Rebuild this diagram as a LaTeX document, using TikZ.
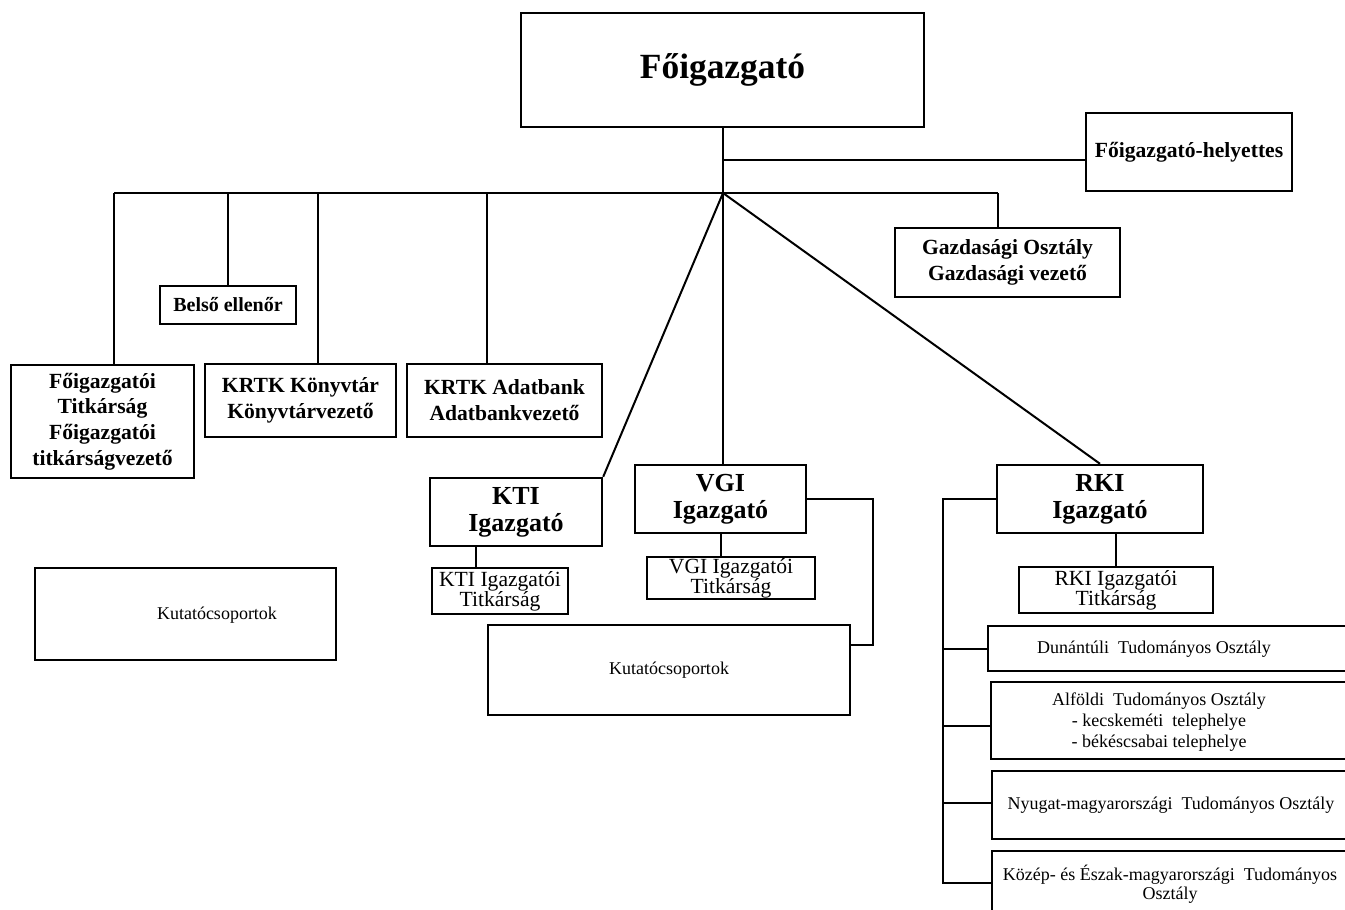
\documentclass[tikz,border=0pt]{standalone}
\usepackage{fontspec}
\setmainfont{Liberation Serif}
\usetikzlibrary{calc}
\begin{document}
\begin{tikzpicture}[x=0.5pt,y=-0.5pt,line width=1pt,
  wh/.style 2 args={minimum width=#1*0.5pt,minimum height=#2*0.5pt},
  box/.style={draw,line width=1.2pt,inner sep=0pt,align=center,font=\bfseries\fontsize{10.8}{13}\selectfont},
  bigbox/.style={box,font=\bfseries\fontsize{13}{13.5}\selectfont},
  sbox/.style={draw,line width=1.2pt,inner sep=0pt,align=center,font=\fontsize{10.8}{10}\selectfont},
  kbox/.style={draw,line width=1.2pt,inner sep=0pt,align=center,font=\fontsize{9}{10}\selectfont},
  dbox/.style={draw,line width=1.2pt,inner sep=0pt,anchor=west},
  dtext/.style={inner sep=0pt,align=center,font=\fontsize{9}{10.5}\selectfont}]
\useasboundingbox (0,0) rectangle (1345,910);
\clip (0,0) rectangle (1345,910);

% nodes
\node[box,wh={403}{114},font=\bfseries\fontsize{17.7}{20}\selectfont] (fo) at (722.5,70) {Főigazgató};
\node[box,wh={206}{78}] (hely) at (1189,152) {Főigazgató-helyettes};
\node[box,wh={225}{69}] (gazd) at (1007.5,262.5) {Gazdasági Osztály\\Gazdasági vezető};
\node[box,wh={136}{38},font=\bfseries\fontsize{10}{12}\selectfont] (belso) at (228,305) {Belső ellenőr};
\node[box,wh={183}{113},font=\bfseries\fontsize{10.8}{12.8}\selectfont] (fotitk) at (102.5,421.5) {Főigazgatói\\Titkárság\\Főigazgatói\\titkárságvezető};
\node[box,wh={191}{73}] (konyv) at (300.5,400.5) {KRTK Könyvtár\\Könyvtárvezető};
\node[box,wh={195}{73}] (adat) at (504.5,400.5) {KRTK Adatbank\\Adatbankvezető};
\node[bigbox,wh={172}{68}] (kti) at (516,512) {KTI\\Igazgató};
\node[sbox,wh={136}{46}] (ktitk) at (500,591) {KTI Igazgatói\\Titkárság};
\node[bigbox,wh={171}{68}] (vgi) at (720.5,499) {VGI\\Igazgató};
\node[sbox,wh={168}{42}] (vgitk) at (731,578) {VGI Igazgatói\\Titkárság};
\node[kbox,wh={362}{90}] (kut2) at (669,670) {Kutatócsoportok};
\node[kbox,wh={301}{92}] (kut1) at (185.5,614) {};
\node[dtext] (kut1t) at (217,615) {Kutatócsoportok};
\node[bigbox,wh={206}{68}] (rki) at (1100,499) {RKI\\Igazgató};
\node[sbox,wh={194}{46}] (rkitk) at (1116,590) {RKI Igazgatói\\Titkárság};

\node[dbox,wh={420}{45}] (dun) at (987,648.5) {};
\node[dtext] (dunt) at (1154,649) {Dunántúli\ \ Tudományos Osztály};
\node[dbox,wh={420}{77}] (alf) at (990,720.5) {};
\node[dtext] (alft) at (1159,722) {Alföldi\ \ Tudományos Osztály\\- kecskeméti\ \ telephelye\\- békéscsabai telephelye};
\node[dbox,wh={420}{68}] (ny) at (991,805) {};
\node[dtext] (nyt) at (1171,805) {Nyugat-magyarországi\ \ Tudományos Osztály};
\node[dbox,wh={420}{90}] (koz) at (991,896) {};
\node[dtext,font=\fontsize{9}{9.5}\selectfont] (kozt) at (1170,884.5) {Közép- és Észak-magyarországi\ \ Tudományos\\Osztály};

% connectors
\coordinate (hub) at (723,193);
\coordinate (hj) at (723,160);
\draw (fo.south) -- (fo.south |- hub);
\draw (hj) -- (hj -| hely.west);
\coordinate (b1) at (114,193);
\coordinate (b2) at (228,193);
\coordinate (b3) at (318,193);
\coordinate (b4) at (487,193);
\coordinate (b5) at (998,193);
\draw (b1) -- (b5);
\draw (b1) -- (b1 |- fotitk.north);
\draw (b2) -- (b2 |- belso.north);
\draw (b3) -- (b3 |- konyv.north);
\draw (b4) -- (b4 |- adat.north);
\draw (b5) -- (b5 |- gazd.north);
\draw (hub) -- (kti.north east);
\draw (hub) -- (hub |- vgi.north);
\draw (hub) -- (rki.north);
\path (ktitk.north west) ++(45,0) coordinate (kt1);
\draw (kt1) -- (kt1 |- kti.south);
\draw (vgi.south) -- (vgi.south |- vgitk.north);
\draw (rkitk.north) -- (rkitk.north |- rki.south);
\coordinate (vr) at (873,645);
\draw (vgi.east) -| (vr) -- (vr -| kut2.east);
\coordinate (rtop) at (943,499);
\coordinate (rbot) at (943,883);
\coordinate (ra) at (943,726);
\coordinate (rn) at (943,803);
\draw (rki.west) -- (rtop) -- (rbot) -- (rbot -| koz.west);
\draw (rtop |- dun.west) -- (dun.west);
\draw (ra) -- (ra -| alf.west);
\draw (rn) -- (rn -| ny.west);
\end{tikzpicture}
\end{document}
